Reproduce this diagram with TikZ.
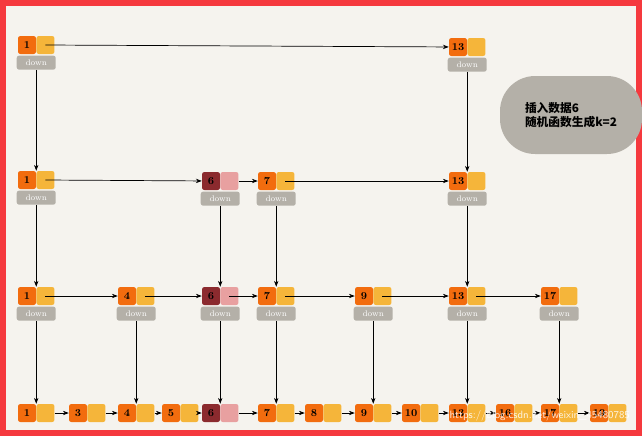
\documentclass[tikz,border=0pt]{standalone}
\usepackage{fontspec}
\newfontfamily\cjk{Noto Sans CJK SC}
\usetikzlibrary{positioning,arrows.meta}
\definecolor{keyorange}{HTML}{F26C0E}
\definecolor{ptryellow}{HTML}{F5B53A}
\definecolor{downgrey}{HTML}{B4B0A8}
\definecolor{newred}{HTML}{8B2A2E}
\definecolor{newpink}{HTML}{E8A0A0}
\definecolor{paper}{HTML}{F5F3EE}
\definecolor{frame}{HTML}{F5393E}

% one list entry: name, x, y, value, key colour, pointer colour
\newcommand{\entry}[6]{%
  \node[keybox, fill=#5] (#1) at (#2,#3) {#4};
  \node[ptrbox, fill=#6, anchor=west] (#1p) at (#1.east) {};}
\newcommand{\downentry}[6]{%
  \entry{#1}{#2}{#3}{#4}{#5}{#6}
  \node[downbox, below=1pt of #1.south east] (#1d) {down};}

\begin{document}
\begin{tikzpicture}[x=0.03cm, y=-0.03cm,
    keybox/.style={rectangle, rounded corners=2pt, minimum size=18*0.03cm, text height=1.4ex, text depth=0pt, inner sep=0pt, font=\bfseries\small},
    ptrbox/.style={rectangle, rounded corners=2pt, minimum size=18*0.03cm, inner sep=0pt},
    downbox/.style={rectangle, rounded corners=2pt, fill=downgrey, text=white, minimum width=39*0.03cm, minimum height=14*0.03cm, inner sep=0pt, font=\scriptsize},
    line/.style={draw, -{Stealth[length=5pt]}, semithick}]

    \fill[frame] (0,0) rectangle (642,436);
    \fill[paper] (6,6) rectangle (636,430);
    \useasboundingbox (0,0) rectangle (642,436);

    % top level
    \downentry{ta}{27}{45}{1}{keyorange}{ptryellow}
    \downentry{tb}{458}{47}{13}{keyorange}{ptryellow}
    % third level
    \downentry{ma}{27}{180}{1}{keyorange}{ptryellow}
    \downentry{mb}{211}{181}{6}{newred}{newpink}
    \downentry{mc}{267}{181}{7}{keyorange}{ptryellow}
    \downentry{md}{458}{181}{13}{keyorange}{ptryellow}
    % second level
    \foreach \n/\x/\v/\k/\p in {a/27/1/keyorange/ptryellow, b/127/4/keyorange/ptryellow,
        c/211/6/newred/newpink, d/267/7/keyorange/ptryellow, e/364/9/keyorange/ptryellow,
        f/458/13/keyorange/ptryellow, g/550/17/keyorange/ptryellow}
      {\downentry{s\n}{\x}{296}{\v}{\k}{\p}}
    % bottom level
    \foreach \n/\x/\v/\k/\p in {a/27/1/keyorange/ptryellow, b/78/3/keyorange/ptryellow,
        c/127/4/keyorange/ptryellow, d/171/5/keyorange/ptryellow, e/211/6/newred/newpink,
        f/267/7/keyorange/ptryellow, g/314/8/keyorange/ptryellow, h/364/9/keyorange/ptryellow,
        i/411/10/keyorange/ptryellow, j/458/13/keyorange/ptryellow, k/505/16/keyorange/ptryellow,
        l/550/17/keyorange/ptryellow, m/599/19/keyorange/ptryellow}
      {\entry{b\n}{\x}{413}{\v}{\k}{\p}}

    % horizontal links
    \path[line] (tap.center) -- (tb);
    \path[line] (map.center) -- (mb);
    \path[line] (mbp) -- (mc);
    \path[line] (mcp.center) -- (md);
    \foreach \a/\b in {a/b,b/c,c/d,d/e,e/f,f/g}
      {\path[line] (s\a p.center) -- (s\b);}
    \foreach \a/\b in {a/b,b/c,c/d,d/e,e/f,f/g,g/h,h/i,i/j,j/k,k/l,l/m}
      {\path[line] (b\a p.east) -- (b\b);}

    % vertical links
    \path[line] (tad) -- (ma.north east);
    \path[line] (tbd) -- (md.north east);
    \path[line] (mad) -- (sa.north east);
    \path[line] (mbd) -- (sc.north east);
    \path[line] (mcd) -- (sd.north east);
    \path[line] (mdd) -- (sf.north east);
    \foreach \a/\b in {a/a,b/c,c/e,d/f,e/h,f/j,g/l}
      {\path[line] (s\a d) -- (b\b.north east);}

    % note
    \node[fill=downgrey, rounded corners=30pt, minimum width=142*0.03cm, minimum height=78*0.03cm,
      align=left, font=\cjk\bfseries] (note) at (571,115) {插入数据6\\随机函数生成k=2};
    \node[text=white, opacity=0.85, font=\sffamily\small, anchor=east] (mark) at (634,416)
      {https://blog.csdn.net/weixin\_45480785};
\end{tikzpicture}
\end{document}
